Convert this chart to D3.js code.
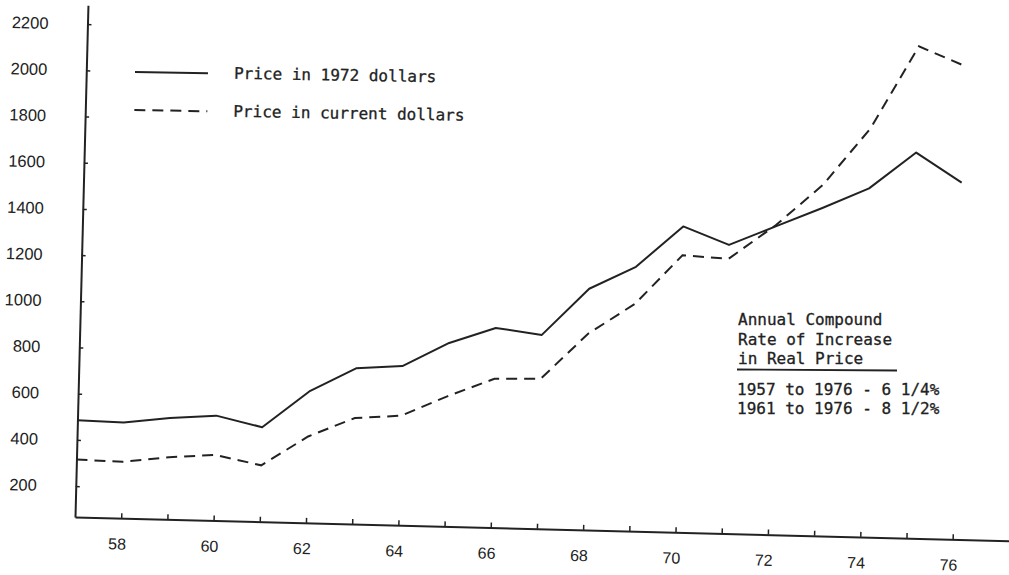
<!DOCTYPE html>
<html>
<head>
<meta charset="utf-8">
<script src="https://cdn.jsdelivr.net/npm/d3@7/dist/d3.min.js"></script>
<style>
    body { margin: 0; background: #fff; }
    .axis path, .axis line { stroke: #222; }
    .axis text { font-family: "Liberation Sans", Arial, sans-serif; fill: #222; }
    .note { font-family: "DejaVu Sans Mono", monospace; font-size: 16px; fill: #222; stroke: #222; stroke-width: 0.3; }
    .line { fill: none; stroke: #222; stroke-width: 2; stroke-linejoin: round; }
    .line2 { fill: none; stroke: #222; stroke-width: 2; stroke-dasharray: 11, 7; }
</style>
</head>
<body>
<div id="chart"></div>
<script>
// values (price per unit, 1957-1976)
const years = [57, 58, 59, 60, 61, 62, 63, 64, 65, 66, 67, 68, 69, 70, 71, 72, 73, 74, 75, 76];
const price1972 = [485, 480, 505, 520, 475, 635, 740, 755, 860, 930, 905, 1110, 1210, 1390, 1315, 1400, 1485, 1575, 1735, 1610];
const priceCurrent = [315, 310, 335, 350, 310, 440, 525, 540, 630, 710, 715, 915, 1050, 1265, 1255, 1405, 1585, 1835, 2195, 2115];
const yTicks = [200, 400, 600, 800, 1000, 1200, 1400, 1600, 1800, 2000, 2200];
const xTicks = [58, 59, 60, 61, 62, 63, 64, 65, 66, 67, 68, 69, 70, 71, 72, 73, 74, 75, 76];
const legendLabels = ["Price in 1972 dollars", "Price in current dollars"];
const noteLines = ["Annual Compound", "Rate of Increase", "in Real Price"];
const rateLines = ["1957 to 1976 - 6 1/4%", "1961 to 1976 - 8 1/2%"];

const width = 1009, height = 575;
const origin = {x: 75, y: 517};   // corner where the two axes meet
const tilt = 1.45;                // the page was scanned slightly crooked

const svg = d3.select("#chart").append("svg")
    .attr("width", width)
    .attr("height", height);

const g = svg.append("g")
    .attr("transform", "translate(" + origin.x + "," + origin.y + ") rotate(" + tilt + ")");

const xScale = d3.scaleLinear().domain([57, 77.3]).range([0, 938]);
const yScale = d3.scaleLinear().domain([66, 2282]).range([0, -512]);

// x axis, ticks point up, labels only on even years
const xAxis = g.append("g")
    .attr("class", "axis")
    .call(d3.axisBottom(xScale)
        .tickValues(xTicks)
        .tickSizeInner(-5)
        .tickSizeOuter(0)
        .tickPadding(20)
        .tickFormat(d => d % 2 === 0 ? d : ""));
xAxis.select(".domain").attr("stroke-width", 2);
xAxis.selectAll(".tick line").attr("stroke-width", 1.5);
xAxis.selectAll(".tick text").attr("font-size", 16).attr("dx", -4);

// y axis, ticks point right, labels well off to the left
const yAxis = g.append("g")
    .attr("class", "axis")
    .call(d3.axisLeft(yScale)
        .tickValues(yTicks)
        .tickSizeInner(-4)
        .tickSizeOuter(0)
        .tickPadding(39)
        .tickFormat(d3.format("d")));
yAxis.select(".domain").attr("stroke-width", 2);
yAxis.selectAll(".tick line").attr("stroke-width", 1.5);
yAxis.selectAll(".tick text").attr("font-size", 16.5);

const line = d3.line()
    .x((d, i) => xScale(years[i]))
    .y(d => yScale(d));

g.append("path")
    .datum(price1972)
    .attr("class", "line")
    .attr("d", line);

g.append("path")
    .datum(priceCurrent)
    .attr("class", "line2")
    .attr("d", line);

// legend (typed on, sits a bit less crooked than the graph)
const legend = svg.append("g").attr("transform", "rotate(1, 135, 72)");
legend.append("line")
    .attr("class", "line")
    .attr("x1", 135).attr("x2", 208)
    .attr("y1", 72).attr("y2", 72);
legend.append("line")
    .attr("class", "line2")
    .attr("x1", 135).attr("x2", 208)
    .attr("y1", 110).attr("y2", 110);
legend.selectAll("text.note")
    .data(legendLabels)
    .enter().append("text")
    .attr("class", "note")
    .attr("x", 234)
    .attr("y", (d, i) => 77 + i * 38)
    .text(d => d);

// annotation block
const note = svg.append("g");
note.selectAll("text.head")
    .data(noteLines)
    .enter().append("text")
    .attr("class", "note head")
    .attr("x", 738)
    .attr("y", (d, i) => 325 + i * 19.5)
    .text(d => d);
note.append("line")
    .attr("x1", 737).attr("x2", 897)
    .attr("y1", 369.5).attr("y2", 370.5)
    .attr("stroke", "#222")
    .attr("stroke-width", 1.8);
note.selectAll("text.rate")
    .data(rateLines)
    .enter().append("text")
    .attr("class", "note rate")
    .attr("x", 737)
    .attr("y", (d, i) => 395 + i * 19)
    .text(d => d);
</script>
</body>
</html>
